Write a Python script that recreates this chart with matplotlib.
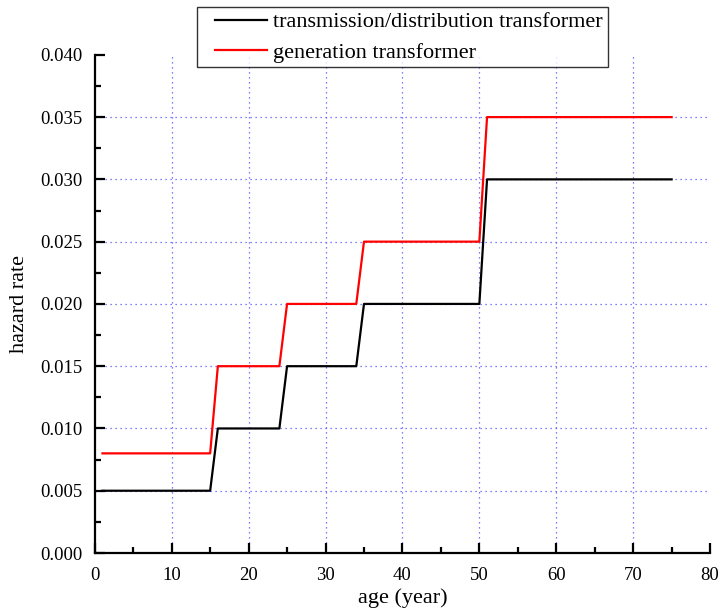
import matplotlib.pyplot as plt
from matplotlib.ticker import MultipleLocator
from matplotlib.legend_handler import HandlerLine2D

plt.rcParams['font.family'] = 'Liberation Serif'

# Data
age = [1, 15, 16, 24, 25, 34, 35, 50, 51, 75]
td_rate = [0.005, 0.005, 0.010, 0.010, 0.015, 0.015, 0.020, 0.020, 0.030, 0.030]
gen_rate = [0.008, 0.008, 0.015, 0.015, 0.020, 0.020, 0.025, 0.025, 0.035, 0.035]

fig = plt.figure(figsize=(7.18, 6.12), dpi=100)
ax = fig.add_axes([0.132, 0.0964, 0.857, 0.814])

ax.plot(age, td_rate, color='black', lw=1.6, label='transmission/distribution transformer')
ax.plot(age, gen_rate, color='red', lw=1.6, label='generation transformer')

ax.set_xlim(0, 80)
ax.set_ylim(0, 0.040)
ax.xaxis.set_major_locator(MultipleLocator(10))
ax.xaxis.set_minor_locator(MultipleLocator(5))
ax.yaxis.set_major_locator(MultipleLocator(0.005))
ax.yaxis.set_minor_locator(MultipleLocator(0.0025))
ax.yaxis.set_major_formatter(plt.FormatStrFormatter('%.3f'))

ax.spines['top'].set_visible(False)
ax.spines['right'].set_visible(False)
ax.spines['left'].set_linewidth(1.6)
ax.spines['bottom'].set_linewidth(1.6)
ax.tick_params(which='both', direction='in', width=1.6, labelsize=13.5)
ax.tick_params(which='major', length=7)
ax.tick_params(which='minor', length=4)
ax.tick_params(axis='x', pad=10)
ax.tick_params(axis='y', pad=9)

# dotted blue grid at interior ticks only
for x in range(10, 80, 10):
    ax.axvline(x, color='#5555ff', lw=0.9, ls=(0, (1, 3)), zorder=0)
for k in range(1, 8):
    ax.axhline(k * 0.005, color='#5555ff', lw=0.9, ls=(0, (1, 3)), zorder=0)

ax.set_xlabel('age (year)', fontsize=16, labelpad=3)
ax.set_ylabel('hazard rate', fontsize=16, labelpad=8)

leg = fig.legend(loc='upper left', bbox_to_anchor=(197 / 718, 1 - 7 / 612),
                 fontsize=16, frameon=True, fancybox=False, handlelength=2.95,
                 borderpad=0.22, labelspacing=0.43, handletextpad=0.27,
                 borderaxespad=0, handler_map={plt.Line2D: HandlerLine2D(xpad=0.6)})
leg.get_frame().set_edgecolor('black')
leg.get_frame().set_linewidth(1.0)

fig.savefig('out.png', dpi=100)
